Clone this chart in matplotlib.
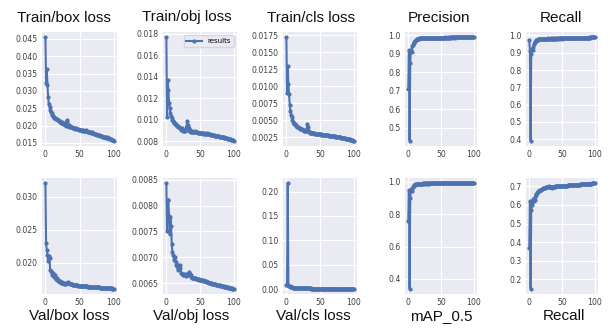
import numpy as np
import matplotlib
matplotlib.use("Agg")
import matplotlib.pyplot as plt

epochs = np.arange(101)

train_box = [0.0455, 0.0322, 0.0363, 0.0318, 0.0282, 0.0262, 0.0255, 0.0245, 0.0240, 0.0235,
             0.0230, 0.0228, 0.0225, 0.0223, 0.0221, 0.0220, 0.0218, 0.0219, 0.0216, 0.0215,
             0.0214, 0.0212, 0.0210, 0.0208, 0.0207, 0.0209, 0.0205, 0.0206, 0.0203, 0.0204,
             0.0200, 0.0215, 0.0210, 0.0200, 0.0197, 0.0201, 0.0199, 0.0196, 0.0195, 0.0196,
             0.0194, 0.0193, 0.0194, 0.0192, 0.0191, 0.0192, 0.0190, 0.0189, 0.0190, 0.0188,
             0.0187, 0.0188, 0.0186, 0.0186, 0.0185, 0.0186, 0.0184, 0.0184, 0.0183, 0.0184,
             0.0186, 0.0183, 0.0182, 0.0182, 0.0181, 0.0180, 0.0181, 0.0179, 0.0180, 0.0178,
             0.0178, 0.0177, 0.0176, 0.0176, 0.0175, 0.0174, 0.0174, 0.0173, 0.0172, 0.0172,
             0.0171, 0.0170, 0.0170, 0.0169, 0.0168, 0.0168, 0.0167, 0.0167, 0.0166, 0.0165,
             0.0166, 0.0164, 0.0163, 0.0163, 0.0162, 0.0161, 0.0160, 0.0159, 0.0158, 0.0157,
             0.0156]

train_obj = [0.0177, 0.0103, 0.0137, 0.0128, 0.0116, 0.0111, 0.0106, 0.0104, 0.0102, 0.0100,
             0.0099, 0.0098, 0.0097, 0.0096, 0.0095, 0.0096, 0.0094, 0.0094, 0.0093, 0.0093,
             0.0092, 0.0092, 0.0091, 0.0092, 0.0090, 0.0091, 0.0090, 0.0090, 0.0091, 0.0092,
             0.0094, 0.0099, 0.0095, 0.0092, 0.0090, 0.0091, 0.0089, 0.0089, 0.0090, 0.0089,
             0.00890, 0.00888, 0.00892, 0.00885, 0.00887, 0.00883, 0.00885, 0.00880, 0.00882, 0.00878,
             0.00880, 0.00876, 0.00878, 0.00874, 0.00875, 0.00872, 0.00874, 0.00870, 0.00871, 0.00868,
             0.00880, 0.00872, 0.00866, 0.00868, 0.00864, 0.00866, 0.00862, 0.00860, 0.00861, 0.00858,
             0.00856, 0.00857, 0.00854, 0.00852, 0.00853, 0.00850, 0.00848, 0.00849, 0.00846, 0.00844,
             0.00842, 0.00843, 0.00840, 0.00838, 0.00839, 0.00836, 0.00834, 0.00835, 0.00832, 0.00830,
             0.00828, 0.00826, 0.00825, 0.00822, 0.00820, 0.00818, 0.00816, 0.00814, 0.00812, 0.00810,
             0.00805]

train_cls = [0.0172, 0.0090, 0.0130, 0.0103, 0.0088, 0.0073, 0.0064, 0.0058, 0.0055, 0.0051,
             0.0048, 0.0046, 0.0045, 0.0044, 0.0043, 0.0042, 0.0041, 0.0040, 0.0040, 0.0039,
             0.0039, 0.0038, 0.0037, 0.0037, 0.0036, 0.0036, 0.0035, 0.0036, 0.0034, 0.0034,
             0.0035, 0.0044, 0.0040, 0.0034, 0.0033, 0.0032, 0.0032, 0.0031, 0.0032, 0.0031,
             0.00310, 0.00308, 0.00305, 0.00306, 0.00302, 0.00300, 0.00301, 0.00298, 0.00296, 0.00297,
             0.00294, 0.00292, 0.00293, 0.00290, 0.00288, 0.00289, 0.00286, 0.00284, 0.00285, 0.00282,
             0.00280, 0.00292, 0.00282, 0.00278, 0.00276, 0.00277, 0.00274, 0.00272, 0.00273, 0.00270,
             0.00268, 0.00276, 0.00266, 0.00262, 0.00260, 0.00261, 0.00258, 0.00256, 0.00254, 0.00252,
             0.00250, 0.00248, 0.00246, 0.00245, 0.00242, 0.00240, 0.00238, 0.00236, 0.00234, 0.00232,
             0.00230, 0.00228, 0.00226, 0.00224, 0.00221, 0.00218, 0.00215, 0.00212, 0.00208, 0.00204,
             0.00200]

precision = [0.71, 0.92, 0.43, 0.85, 0.92, 0.91, 0.94, 0.95, 0.96, 0.962,
             0.968, 0.972, 0.976, 0.978, 0.979, 0.981, 0.982, 0.983, 0.983, 0.984,
             0.984, 0.985, 0.984, 0.985, 0.986, 0.985, 0.986, 0.986, 0.985, 0.986,
             0.987, 0.986, 0.986, 0.987, 0.986, 0.987, 0.987, 0.986, 0.987, 0.987,
             0.987, 0.988, 0.987, 0.987, 0.988, 0.987, 0.988, 0.988, 0.987, 0.988,
             0.988, 0.988, 0.987, 0.988, 0.988, 0.988, 0.989, 0.988, 0.988, 0.988,
             0.989, 0.988, 0.988, 0.989, 0.988, 0.989, 0.989, 0.988, 0.989, 0.989,
             0.989, 0.989, 0.988, 0.989, 0.989, 0.989, 0.989, 0.990, 0.989, 0.989,
             0.989, 0.990, 0.989, 0.989, 0.990, 0.989, 0.990, 0.989, 0.990, 0.990,
             0.989, 0.990, 0.990, 0.990, 0.989, 0.990, 0.990, 0.990, 0.990, 0.990,
             0.990]

recall = [0.975, 0.91, 0.39, 0.895, 0.92, 0.915, 0.935, 0.95, 0.96, 0.965,
          0.968, 0.972, 0.974, 0.976, 0.977, 0.978, 0.979, 0.978, 0.980, 0.979,
          0.980, 0.981, 0.980, 0.981, 0.982, 0.981, 0.982, 0.981, 0.982, 0.983,
          0.982, 0.981, 0.982, 0.983, 0.982, 0.981, 0.982, 0.983, 0.982, 0.982,
          0.983, 0.982, 0.983, 0.982, 0.983, 0.983, 0.982, 0.983, 0.984, 0.983,
          0.982, 0.983, 0.984, 0.983, 0.984, 0.983, 0.984, 0.984, 0.983, 0.984,
          0.984, 0.985, 0.984, 0.985, 0.984, 0.985, 0.985, 0.984, 0.985, 0.985,
          0.986, 0.985, 0.985, 0.986, 0.986, 0.985, 0.986, 0.986, 0.987, 0.986,
          0.986, 0.987, 0.987, 0.986, 0.987, 0.987, 0.988, 0.987, 0.988, 0.988,
          0.988, 0.988, 0.989, 0.988, 0.989, 0.989, 0.989, 0.989, 0.990, 0.990,
          0.990]

val_box = [0.0320, 0.0229, 0.0219, 0.0212, 0.0202, 0.0210, 0.0207, 0.0189, 0.0187, 0.0185,
           0.0182, 0.0184, 0.0180, 0.0178, 0.0181, 0.0176, 0.0175, 0.0177, 0.0173, 0.0174,
           0.0172, 0.0173, 0.0171, 0.0170, 0.0171, 0.0169, 0.0169, 0.0168, 0.0169, 0.0168,
           0.0168, 0.0169, 0.0170, 0.0171, 0.0170, 0.0169, 0.0168, 0.0167, 0.0167, 0.0167,
           0.01668, 0.01665, 0.01663, 0.01662, 0.01660, 0.01658, 0.01657, 0.01655, 0.01654, 0.01653,
           0.01652, 0.01650, 0.01650, 0.01648, 0.01647, 0.01646, 0.01645, 0.01644, 0.01643, 0.01642,
           0.01641, 0.01640, 0.01639, 0.01638, 0.01637, 0.01636, 0.01636, 0.01635, 0.01634, 0.01633,
           0.01632, 0.01631, 0.01630, 0.01630, 0.01629, 0.01628, 0.01627, 0.01626, 0.01626, 0.01625,
           0.01624, 0.01623, 0.01622, 0.01622, 0.01621, 0.01620, 0.01619, 0.01618, 0.01618, 0.01617,
           0.01616, 0.01615, 0.01614, 0.01614, 0.01613, 0.01612, 0.01611, 0.01610, 0.01609, 0.01608,
           0.01606]

val_obj = [0.00843, 0.00750, 0.00810, 0.00810, 0.00780, 0.00745, 0.00778, 0.00760, 0.00725, 0.00710,
           0.00705, 0.00700, 0.00695, 0.00700, 0.00690, 0.00685, 0.00682, 0.00675, 0.00685, 0.00678,
           0.00685, 0.00680, 0.00670, 0.00668, 0.00665, 0.00668, 0.00665, 0.00668, 0.00665, 0.00663,
           0.00665, 0.00668, 0.00665, 0.00670, 0.00672, 0.00668, 0.00665, 0.00662, 0.00660, 0.00660,
           0.00660, 0.00660, 0.00659, 0.00659, 0.00658, 0.00658, 0.00658, 0.00657, 0.00657, 0.00656,
           0.00656, 0.00656, 0.00655, 0.00655, 0.00655, 0.00654, 0.00654, 0.00653, 0.00653, 0.00653,
           0.00652, 0.00652, 0.00652, 0.00651, 0.00651, 0.00650, 0.00650, 0.00650, 0.00649, 0.00649,
           0.00649, 0.00648, 0.00648, 0.00648, 0.00647, 0.00647, 0.00647, 0.00646, 0.00646, 0.00646,
           0.00645, 0.00645, 0.00645, 0.00644, 0.00644, 0.00644, 0.00643, 0.00643, 0.00643, 0.00642,
           0.00642, 0.00642, 0.00641, 0.00641, 0.00641, 0.00640, 0.00640, 0.00640, 0.00639, 0.00639,
           0.00639]

val_cls = [0.0095, 0.0085, 0.2170, 0.0080, 0.0070, 0.0060, 0.0052, 0.0046, 0.0041, 0.0037,
           0.0034, 0.0031, 0.0029, 0.0027, 0.0025, 0.0024, 0.0023, 0.0022, 0.0021, 0.0020,
           0.0019, 0.0019, 0.0018, 0.0018, 0.0017, 0.0017, 0.0016, 0.0016, 0.0016, 0.0015,
           0.0015, 0.0015, 0.0015, 0.0014, 0.0014, 0.0014, 0.0014, 0.0013, 0.0013, 0.0013,
           0.0013, 0.0013, 0.0012, 0.0012, 0.0012, 0.0012, 0.0012, 0.0012, 0.0011, 0.0011,
           0.0011, 0.0011, 0.0011, 0.0011, 0.0011, 0.0011, 0.0011, 0.0010, 0.0010, 0.0010,
           0.0010, 0.0010, 0.0010, 0.0010, 0.0010, 0.0010, 0.0010, 0.0010, 0.0010, 0.0010,
           0.0010, 0.0010, 0.0010, 0.0010, 0.0009, 0.0009, 0.0009, 0.0009, 0.0009, 0.0009,
           0.0009, 0.0009, 0.0009, 0.0009, 0.0009, 0.0009, 0.0009, 0.0009, 0.0009, 0.0009,
           0.0009, 0.0009, 0.0009, 0.0009, 0.0009, 0.0009, 0.0009, 0.0009, 0.0009, 0.0009,
           0.0009]

map50 = [0.76, 0.95, 0.34, 0.90, 0.95, 0.94, 0.96, 0.97, 0.975, 0.978,
         0.981, 0.983, 0.984, 0.985, 0.986, 0.987, 0.987, 0.988, 0.988, 0.988,
         0.988, 0.988, 0.989, 0.988, 0.989, 0.988, 0.989, 0.989, 0.988, 0.989,
         0.989, 0.989, 0.988, 0.989, 0.989, 0.989, 0.989, 0.989, 0.989, 0.989,
         0.989, 0.989, 0.989, 0.989, 0.989, 0.990, 0.989, 0.989, 0.989, 0.989,
         0.989, 0.990, 0.989, 0.989, 0.990, 0.989, 0.989, 0.990, 0.989, 0.990,
         0.990, 0.989, 0.990, 0.989, 0.990, 0.990, 0.989, 0.990, 0.990, 0.990,
         0.990, 0.990, 0.989, 0.990, 0.990, 0.990, 0.990, 0.990, 0.990, 0.990,
         0.990, 0.990, 0.990, 0.990, 0.990, 0.990, 0.990, 0.990, 0.990, 0.990,
         0.990, 0.990, 0.990, 0.990, 0.990, 0.990, 0.990, 0.990, 0.990, 0.990,
         0.990]

val_recall = [0.37, 0.62, 0.15, 0.57, 0.60, 0.62, 0.63, 0.62, 0.625, 0.645,
              0.655, 0.66, 0.665, 0.67, 0.672, 0.675, 0.678, 0.68, 0.682, 0.684,
              0.686, 0.688, 0.69, 0.692, 0.693, 0.694, 0.695, 0.696, 0.697, 0.698,
              0.699, 0.697, 0.696, 0.695, 0.693, 0.695, 0.696, 0.697, 0.698, 0.698,
              0.699, 0.699, 0.700, 0.700, 0.700, 0.701, 0.701, 0.701, 0.702, 0.702,
              0.702, 0.703, 0.703, 0.703, 0.703, 0.704, 0.704, 0.704, 0.704, 0.705,
              0.705, 0.705, 0.705, 0.706, 0.706, 0.706, 0.706, 0.707, 0.707, 0.707,
              0.707, 0.708, 0.708, 0.708, 0.709, 0.709, 0.709, 0.709, 0.710, 0.710,
              0.710, 0.710, 0.711, 0.711, 0.711, 0.712, 0.712, 0.712, 0.712, 0.713,
              0.713, 0.713, 0.714, 0.714, 0.714, 0.714, 0.715, 0.715, 0.715, 0.715,
              0.716]

top_titles = ['Train/box loss', 'Train/obj loss', 'Train/cls loss', 'Precision', 'Recall']
bottom_titles = ['Val/box loss', 'Val/obj loss', 'Val/cls loss', 'mAP_0.5', 'Recall']
top_series = [train_box, train_obj, train_cls, precision, recall]
bottom_series = [val_box, val_obj, val_cls, map50, val_recall]
top_yticks = [[0.015, 0.020, 0.025, 0.030, 0.035, 0.040, 0.045],
              [0.008, 0.010, 0.012, 0.014, 0.016, 0.018],
              [0.0025, 0.0050, 0.0075, 0.0100, 0.0125, 0.0150, 0.0175],
              [0.5, 0.6, 0.7, 0.8, 0.9, 1.0],
              [0.4, 0.5, 0.6, 0.7, 0.8, 0.9, 1.0]]
bottom_yticks = [[0.020, 0.025, 0.030],
                 [0.0065, 0.0070, 0.0075, 0.0080, 0.0085],
                 [0.00, 0.05, 0.10, 0.15, 0.20],
                 [0.4, 0.6, 0.8, 1.0],
                 [0.2, 0.3, 0.4, 0.5, 0.6, 0.7]]
top_fmt = ['%.3f', '%.3f', '%.4f', '%.1f', '%.1f']
bottom_fmt = ['%.3f', '%.4f', '%.2f', '%.1f', '%.1f']

W, H = 610, 329
col_l = [42, 163, 283, 405, 526]
col_r = [117, 237, 357, 477, 598]
rows = [(32, 146), (178, 294)]
top_title_x = [64, 187, 311, 439, 561]
bot_title_x = [69, 191, 313, 441, 564]

blue = '#4C72B0'
fig = plt.figure(figsize=(W / 100, H / 100), dpi=100)

def make_ax(col, row):
    t, b = rows[row]
    l, r = col_l[col], col_r[col]
    ax = fig.add_axes([l / W, 1 - b / H, (r - l) / W, (b - t) / H])
    ax.set_facecolor('#EAEAF2')
    for s in ax.spines.values():
        s.set_visible(False)
    ax.grid(True, color='white', linewidth=0.9)
    ax.set_axisbelow(True)
    ax.tick_params(length=0, labelsize=5.6, labelcolor='#404040', pad=3)
    ax.set_xticks([0, 50, 100])
    return ax

for i in range(5):
    ax = make_ax(i, 0)
    ax.plot(epochs, top_series[i], color=blue, marker='.', markersize=4, linewidth=1.5, label='results')
    ax.set_yticks(top_yticks[i])
    ax.yaxis.set_major_formatter(matplotlib.ticker.FormatStrFormatter(top_fmt[i]))
    ax.set_xlim(-5, 105)
    if i == 1:
        ax.legend(loc='upper right', fontsize=5, frameon=True, facecolor='#EAEAF2', edgecolor='#d0d0d8', handlelength=2.2)
    fig.text(top_title_x[i] / W, 1 - 17.5 / H, top_titles[i], ha='center', va='center',
             fontsize=11, family='Liberation Sans', color='#111111')

    ax2 = make_ax(i, 1)
    ax2.plot(epochs, bottom_series[i], color=blue, marker='.', markersize=4, linewidth=1.5)
    ax2.set_yticks(bottom_yticks[i])
    ax2.yaxis.set_major_formatter(matplotlib.ticker.FormatStrFormatter(bottom_fmt[i]))
    ax2.set_xlim(-5, 105)
    fig.text(bot_title_x[i] / W, 1 - 316 / H, bottom_titles[i], ha='center', va='center',
             fontsize=11, family='Liberation Sans', color='#111111')

fig.savefig('out.png', dpi=100)
